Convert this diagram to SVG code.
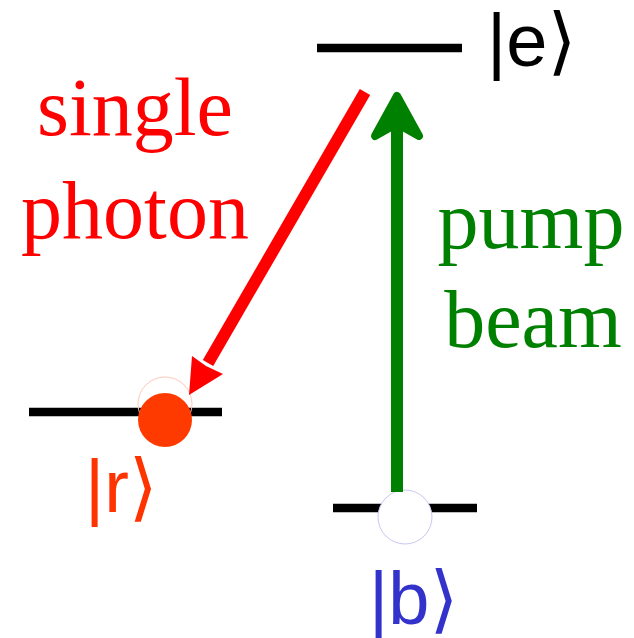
<svg xmlns="http://www.w3.org/2000/svg" width="634" height="638" viewBox="0 0 634 638">
<style>
.lvl{stroke:#000;stroke-width:8.5;fill:none}
.ket{font-family:"Liberation Sans","DejaVu Sans",sans-serif;font-size:74px}
.lbl{font-family:"Liberation Serif","Times New Roman",serif;font-size:82px;text-anchor:middle}
</style>
<rect width="634" height="638" fill="#fff"/>
<g id="level-e">
<line class="lvl" x1="317" y1="48" x2="462" y2="48"/>
<text class="ket" x="487" y="66" fill="#000">|e⟩</text>
</g>
<g id="level-r">
<line class="lvl" x1="29" y1="412" x2="222" y2="412"/>
<circle cx="165" cy="404" r="27" fill="none" stroke="#ffc8b8" stroke-width="1"/>
<circle cx="165" cy="420" r="27" fill="#ff3a00"/>
<text class="ket" x="85" y="512" fill="#ff3300">|r⟩</text>
</g>
<g id="level-b">
<line class="lvl" x1="333" y1="508" x2="477" y2="508"/>
<circle cx="405" cy="517" r="27" fill="#fff" stroke="#c8c8f0" stroke-width="1"/>
<text class="ket" x="369" y="624" fill="#3333cc">|b⟩</text>
</g>
<g id="label-single-photon">
<text class="lbl" x="135" y="135" fill="#f00">single</text>
<text class="lbl" x="135" y="238" fill="#f00">photon</text>
</g>
<g id="label-pump-beam">
<text class="lbl" x="531" y="248" fill="#008000">pump</text>
<text class="lbl" x="533" y="347" fill="#008000">beam</text>
</g>
<g id="connectors">
<g id="single-photon-arrow">
<line x1="365" y1="92" x2="208" y2="363" stroke="#f00" stroke-width="12"/>
<polygon points="189,395 192,356 206,366 223,374" fill="#f00"/>
</g>
<g id="pump-arrow">
<line x1="397" y1="492" x2="397" y2="125" stroke="#008000" stroke-width="12"/>
<path d="M397,96 L419,136 L403,127 L391,127 L375,136 Z" fill="#008000" stroke="#008000" stroke-width="8" stroke-linejoin="round"/>
</g>
</g>
</svg>
